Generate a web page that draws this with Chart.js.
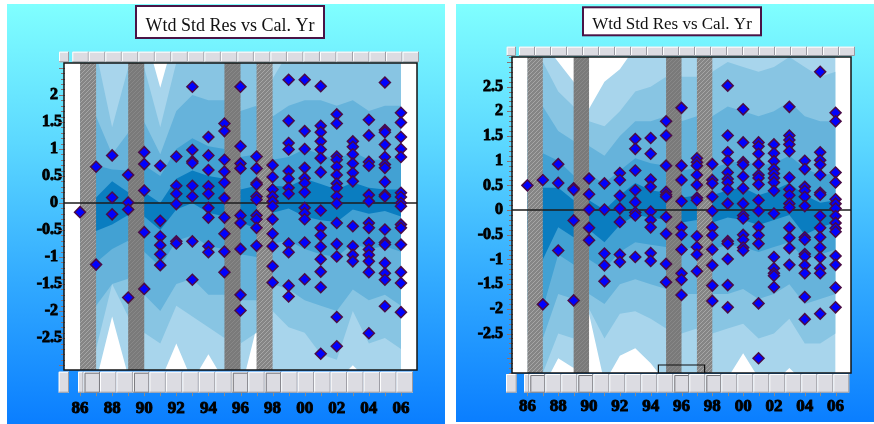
<!DOCTYPE html>
<html>
<head>
<meta charset="utf-8">
<title>Wtd Std Res vs Cal. Yr</title>
<script src="https://cdn.jsdelivr.net/npm/chart.js@4.4.1/dist/chart.umd.min.js"></script>
<style>
  html, body { margin: 0; padding: 0; background: #fff; }
  body { width: 874px; height: 424px; position: relative; overflow: hidden; }
  .panel { position: absolute; background: linear-gradient(to bottom, #80ffff 0%, #5cd8ff 33%, #32aaff 66%, #0a7eff 100%); }
  .panel canvas { display: block; }
</style>
</head>
<body>
<div class="panel" style="left:7px;top:4px;width:438px;height:420px"><canvas id="left" width="438" height="420"></canvas></div>
<div class="panel" style="left:456px;top:4px;width:418px;height:418px"><canvas id="right" width="418" height="418"></canvas></div>
<script>
const years = [1986, 1987, 1988, 1989, 1990, 1991, 1992, 1993, 1994, 1995, 1996,
  1997, 1998, 1999, 2000, 2001, 2002, 2003, 2004, 2005, 2006];
const yearLabels = ['86', '88', '90', '92', '94', '96', '98', '00', '02', '04', '06'];
const shadedYears = [1986, 1989, 1995, 1997];

// weighted standardised residuals, one list per calendar year
const leftRes = [
  [-0.17],
  [0.67, -1.14],
  [0.88, 0.10, -0.21],
  [0.52, 0.01, -0.12, -1.75],
  [0.94, 0.72, 0.23, -0.54, -1.59],
  [0.69, -0.33, -0.62, -0.78, -0.95, -1.15],
  [0.86, 0.32, 0.17, -0.02, -0.71, -0.75],
  [2.15, 0.98, 0.77, 0.74, 0.32, 0.12, -0.71, -1.42],
  [1.22, 0.88, 0.61, 0.31, 0.17, -0.09, -0.27, -0.80, -0.91],
  [1.47, 1.33, 0.80, 0.58, 0.38, 0.09, -0.27, -0.57, -0.90, -1.28],
  [2.15, 1.05, 0.73, 0.64, -0.23, -0.37, -0.85, -1.70, -1.99],
  [0.86, 0.64, 0.37, 0.34, 0.12, 0.06, -0.23, -0.30, -0.46, -0.79],
  [0.70, 0.48, 0.25, 0.12, 0.03, -0.06, -0.30, -0.57, -0.80, -1.17, -1.47],
  [2.28, 1.52, 1.11, 0.99, 0.59, 0.45, 0.28, 0.17, -0.75, -0.91, -1.53, -1.73],
  [2.28, 1.33, 1.00, 0.65, 0.46, 0.37, 0.20, -0.09, -0.19, -0.30, -0.73, -1.41],
  [2.16, 1.43, 1.31, 1.14, 0.99, 0.83, 0.57, -0.14, -0.46, -0.60, -0.81, -1.04, -1.27, -1.56, -2.79],
  [1.64, 1.47, 0.86, 0.80, 0.67, 0.52, 0.36, 0.28, 0.12, -0.01, -0.37, -0.76, -0.99, -2.11, -2.65],
  [1.14, 1.04, 0.90, 0.73, 0.56, 0.40, -0.43, -0.80, -0.96, -1.08],
  [1.54, 1.25, 0.76, 0.69, 0.15, 0.03, -0.37, -0.46, -0.74, -0.86, -0.96, -1.08, -1.28, -2.41],
  [2.23, 1.35, 1.31, 1.08, 0.85, 0.71, 0.65, 0.39, 0.15, 0.12, -0.49, -0.73, -0.77, -1.11, -1.30, -1.42, -1.91],
  [1.67, 1.49, 1.22, 1.00, 0.85, 0.19, 0.11, 0.00, -0.06, -0.40, -0.46, -0.77, -1.28, -1.48, -2.02]
];
const rightRes = [
  [0.50],
  [0.61, -1.91],
  [0.93, 0.55, -0.82],
  [0.44, 0.41, -0.21, -1.83],
  [0.64, 0.32, 0.01, -0.36, -0.61],
  [0.54, 0.01, -0.88, -1.12, -1.44],
  [0.75, 0.61, 0.29, 0.03, -0.24, -0.90, -1.05],
  [1.44, 1.24, 0.80, 0.40, 0.16, -0.05, -0.11, -0.95],
  [1.46, 1.14, 0.62, 0.47, -0.03, -0.20, -0.35, -0.87, -1.03],
  [1.80, 1.51, 0.90, 0.37, 0.31, 0.27, -0.14, -0.48, -1.09, -1.46],
  [2.07, 0.90, 0.61, 0.18, -0.35, -0.50, -0.80, -1.28, -1.41, -1.72],
  [1.05, 0.97, 0.90, 0.71, 0.51, 0.25, 0.20, -0.53, -0.75, -0.90, -1.24],
  [0.93, 0.61, 0.54, 0.27, -0.02, -0.35, -0.51, -0.80, -1.12, -1.53, -1.84],
  [2.52, 1.51, 1.17, 1.00, 0.76, 0.63, 0.56, 0.42, 0.13, -0.63, -0.68, -0.99, -1.52, -1.97],
  [2.04, 1.37, 0.97, 0.92, 0.68, 0.44, 0.13, -0.11, -0.17, -0.50, -0.60, -0.76, -0.82],
  [1.37, 1.29, 1.14, 0.93, 0.71, 0.65, 0.52, 0.20, -0.02, -0.34, -0.51, -0.68, -1.89, -3.00],
  [1.33, 1.15, 0.99, 0.83, 0.74, 0.65, 0.56, 0.39, -0.07, -0.95, -1.18, -1.28, -1.33, -1.56],
  [2.09, 1.51, 1.42, 1.33, 1.19, 0.66, 0.42, 0.30, 0.13, 0.05, -0.36, -0.56, -0.77, -1.11],
  [1.00, 0.83, 0.47, 0.39, 0.27, 0.08, -0.55, -0.60, -0.89, -0.94, -1.12, -1.28, -1.76, -2.21],
  [2.80, 1.17, 1.01, 0.92, 0.71, 0.35, 0.31, -0.12, -0.36, -0.55, -0.76, -0.96, -1.18, -1.28, -2.10],
  [1.97, 1.80, 0.76, 0.56, 0.22, 0.13, 0.03, -0.12, -0.26, -0.37, -0.44, -0.93, -1.11, -1.57, -1.97]
];

// envelope bands, innermost (1) to outermost (5)
const leftB1Hi = [0.15, 0.10, 0.40, 0.20, 0.20, 0.00, 0.45, 0.60, 0.50, 0.45, 0.25, 0.32, 0.32, 0.30, 0.45, 0.35, 0.25, 0.38, 0.28, 0.25, 0.25];
const leftB1Lo = [-0.30, -0.52, -0.40, -0.22, -0.25, -0.50, -0.12, 0.00, -0.18, -0.25, -0.35, -0.48, -0.18, -0.10, -0.25, -0.32, -0.35, -0.12, -0.20, -0.15, -0.25];
const leftB2Hi = [0.60, 0.70, 0.62, 0.60, 0.70, 0.50, 1.00, 1.20, 1.05, 1.00, 0.85, 0.90, 0.80, 0.85, 1.00, 0.90, 0.80, 0.95, 0.80, 0.80, 0.85];
const leftB2Lo = [-0.80, -1.10, -0.85, -0.70, -0.90, -1.18, -0.70, -0.60, -0.80, -0.85, -0.95, -1.00, -0.75, -0.70, -0.85, -0.95, -1.00, -0.75, -0.85, -0.80, -0.90];
const leftB3Hi = [1.40, 1.60, 0.90, 1.30, 1.50, 0.90, 1.70, 2.00, 1.90, 1.90, 1.70, 1.80, 1.60, 1.80, 1.90, 1.90, 1.80, 1.90, 1.70, 1.80, 1.80];
const leftB3Lo = [-1.50, -1.90, -1.50, -1.40, -1.70, -2.00, -1.50, -1.40, -1.70, -1.70, -1.80, -1.80, -1.50, -1.60, -1.80, -1.90, -2.00, -1.60, -1.80, -1.70, -1.90];
const leftB4Hi = [2.30, 2.80, 1.40, 2.50, 2.50, 1.40, 2.60, 3.00, 2.80, 2.90, 2.70, 2.60, 2.30, 2.80, 3.00, 2.90, 2.60, 2.90, 2.60, 2.80, 2.90];
const leftB4Lo = [-2.20, -2.70, -1.50, -2.10, -2.40, -2.60, -1.90, -2.10, -2.30, -2.50, -2.60, -2.40, -2.00, -2.30, -2.40, -2.80, -2.90, -2.00, -2.60, -2.50, -2.70];
const leftB5Hi = [3.00, 3.20, 3.00, 3.00, 3.20, 2.13, 3.20, 3.40, 3.20, 3.30, 3.50, 2.10, 3.00, 3.20, 3.40, 3.20, 3.00, 3.30, 3.00, 3.20, 3.20];
const leftB5Lo = [-3.40, -3.30, -2.10, -3.20, -3.30, -3.30, -2.60, -3.30, -2.80, -3.30, -3.50, -2.30, -3.30, -3.30, -3.30, -3.30, -3.30, -3.00, -3.30, -3.30, -3.30];

const rightB1Hi = [0.35, 0.45, 0.45, 0.20, 0.20, 0.00, 0.30, 0.55, 0.40, 0.35, 0.25, 0.30, 0.30, 0.40, 0.45, 0.30, 0.40, 0.55, 0.30, 0.15, 0.20];
const rightB1Lo = [-0.40, -1.00, -0.35, -0.55, -0.40, -0.65, -0.30, -0.10, -0.15, -0.20, -0.25, -0.20, -0.25, -0.15, -0.20, -0.30, -0.20, -0.10, -0.50, -0.35, -0.25];
const rightB2Hi = [0.90, 1.15, 1.00, 0.70, 0.70, 0.55, 0.80, 1.05, 0.95, 0.90, 0.80, 0.85, 0.85, 0.95, 1.00, 0.90, 0.95, 1.10, 0.85, 0.70, 0.75];
const rightB2Lo = [-1.00, -2.00, -0.90, -1.10, -1.00, -1.20, -0.85, -0.65, -0.70, -0.75, -0.80, -0.75, -0.80, -0.70, -0.75, -0.85, -0.75, -0.65, -1.00, -0.90, -0.80];
const rightB3Hi = [1.80, 2.10, 1.60, 1.40, 1.30, 1.10, 1.50, 1.80, 1.80, 1.90, 1.80, 1.90, 1.90, 2.10, 2.00, 1.90, 2.00, 2.20, 1.90, 1.80, 1.80];
const rightB3Lo = [-1.80, -2.60, -1.70, -1.80, -1.70, -1.90, -1.50, -1.40, -1.50, -1.60, -1.70, -1.70, -1.70, -1.70, -1.60, -1.80, -1.70, -1.50, -1.90, -1.80, -1.70];
const rightB4Hi = [2.70, 3.00, 2.40, 2.10, 1.80, 1.70, 2.00, 2.40, 2.50, 2.70, 2.70, 2.70, 2.80, 3.00, 2.90, 2.80, 2.90, 3.10, 2.90, 2.70, 2.80];
const rightB4Lo = [-2.50, -3.30, -2.50, -2.60, -2.00, -2.60, -2.10, -2.05, -2.20, -2.40, -2.50, -2.40, -2.50, -2.40, -2.30, -2.60, -2.50, -2.20, -2.70, -2.70, -2.50];
const rightB5Hi = [3.30, 3.40, 3.00, 2.60, 2.05, 2.60, 2.85, 3.30, 3.50, 3.50, 3.50, 3.40, 3.50, 3.50, 3.50, 3.40, 3.50, 3.50, 3.50, 3.40, 3.40];
const rightB5Lo = [-3.50, -3.60, -3.00, -3.20, -2.10, -3.50, -2.95, -2.80, -3.10, -3.50, -3.50, -3.50, -3.50, -3.40, -2.90, -3.40, -3.50, -3.20, -3.50, -3.50, -3.40];

const bandColors = ['#0a7dc0', '#42a1d3', '#66b3db', '#88c5e3', '#a8d5ec'];
const serif = '"Liberation Serif", "Times New Roman", serif';

function makeHatch(ctx, base, line) {
  const c = document.createElement('canvas');
  c.width = 4; c.height = 4;
  const g = c.getContext('2d');
  g.fillStyle = base;
  g.fillRect(0, 0, 4, 4);
  g.strokeStyle = line;
  g.lineWidth = 1;
  g.beginPath();
  g.moveTo(0, 4); g.lineTo(4, 0);
  g.moveTo(-1, 1); g.lineTo(1, -1);
  g.moveTo(3, 5); g.lineTo(5, 3);
  g.stroke();
  return ctx.createPattern(c, 'repeat');
}

function drawCell(ctx, x, y, w, h, marked) {
  ctx.fillStyle = '#dcdce2';
  ctx.fillRect(x, y, w, h);
  ctx.lineWidth = 1;
  ctx.strokeStyle = '#ffffff';
  ctx.beginPath();
  ctx.moveTo(x + 0.5, y + h); ctx.lineTo(x + 0.5, y + 0.5); ctx.lineTo(x + w, y + 0.5);
  ctx.stroke();
  ctx.strokeStyle = marked ? '#74747a' : '#9a9aa2';
  ctx.beginPath();
  ctx.moveTo(x + w - 0.5, y); ctx.lineTo(x + w - 0.5, y + h - 0.5); ctx.lineTo(x, y + h - 0.5);
  if (marked) { ctx.moveTo(x + 1.5, y + h - 1); ctx.lineTo(x + 1.5, y + 1.5); ctx.lineTo(x + w - 1, y + 1.5); }
  ctx.stroke();
}

const panelDeco = {
  id: 'panelDeco',
  beforeDraw(chart) {
    const { ctx, chartArea: a } = chart;
    ctx.save();
    ctx.fillStyle = '#ffffff';
    ctx.fillRect(a.left, a.top, a.right - a.left, a.bottom - a.top);
    ctx.restore();
  },
  beforeDatasetDraw(chart, args) {
    if (args.index !== 0) return;
    const { ctx, chartArea: a, scales: { x, y } } = chart;
    const light = makeHatch(ctx, '#858585', '#a6a6a6');
    const dark = makeHatch(ctx, '#7a7a7a', '#888888');
    ctx.save();
    ctx.beginPath();
    ctx.rect(a.left, a.top, a.right - a.left, a.bottom - a.top);
    ctx.clip();
    shadedYears.forEach((yr, i) => {
      const x0 = x.getPixelForValue(yr);
      const x1 = x.getPixelForValue(yr + 1);
      ctx.fillStyle = i % 3 === 0 ? light : dark;
      ctx.fillRect(x0, a.top, x1 - x0, a.bottom - a.top);
    });
    const y0 = y.getPixelForValue(0);
    ctx.strokeStyle = '#1c1c1c';
    ctx.lineWidth = 1.5;
    ctx.beginPath();
    ctx.moveTo(a.left, y0);
    ctx.lineTo(a.right, y0);
    ctx.stroke();
    ctx.restore();
  },
  afterDraw(chart, args, o) {
    const { ctx, chartArea: a, scales: { x, y } } = chart;
    ctx.save();

    // strip of cells above the plot
    const t = o.topRow;
    drawCell(ctx, t.lone[0], t.y, t.lone[1], t.h, false);
    const tw = (t.end - t.start) / t.count;
    for (let i = 0; i < t.count; i++) drawCell(ctx, t.start + i * tw, t.y, tw, t.h, false);

    // strip of cells below the plot
    const b = o.bottomRow;
    drawCell(ctx, b.lone[0], b.y, b.lone[1], b.h, false);
    drawCell(ctx, b.narrow[0], b.y, b.narrow[1] - b.narrow[0], b.h, false);
    const bw = (b.end - b.narrow[1]) / b.count;
    for (let i = 0; i < b.count; i++) {
      const yr = years[0] + i;
      drawCell(ctx, b.narrow[1] + i * bw, b.y, bw, b.h, shadedYears.includes(yr));
    }

    // year tick marks under the strip
    ctx.strokeStyle = '#8a8a8a';
    ctx.lineWidth = 1;
    years.forEach(yr => {
      const px = Math.round(x.getPixelForValue(yr)) + 0.5;
      ctx.beginPath();
      ctx.moveTo(px, b.y + b.h);
      ctx.lineTo(px, b.y + b.h + 3.5);
      ctx.stroke();
    });

    // minor ticks on the residual axis
    ctx.strokeStyle = '#8e6f6f';
    for (let k = Math.ceil(y.min * 10); k <= Math.floor(y.max * 10); k++) {
      const py = Math.round(y.getPixelForValue(k / 10)) + 0.5;
      const len = k % 5 === 0 ? 5 : 3;
      ctx.beginPath();
      ctx.moveTo(a.left - len, py);
      ctx.lineTo(a.left + 1, py);
      ctx.stroke();
    }

    // bracket marker on the lower edge
    if (o.bracket) {
      const x0 = x.getPixelForValue(o.bracket[0]);
      const x1 = x.getPixelForValue(o.bracket[1]);
      ctx.strokeStyle = '#111';
      ctx.lineWidth = 1.2;
      ctx.beginPath();
      ctx.moveTo(x0, a.bottom);
      ctx.lineTo(x0, a.bottom - 8);
      ctx.lineTo(x1, a.bottom - 8);
      ctx.lineTo(x1, a.bottom);
      ctx.stroke();
    }

    // plot frame
    ctx.strokeStyle = '#151515';
    ctx.lineWidth = 1.5;
    ctx.strokeRect(a.left, a.top, a.right - a.left, a.bottom - a.top);

    // title box
    const tb = o.titleBox;
    ctx.fillStyle = '#ffffff';
    ctx.fillRect(tb.x, tb.y, tb.w, tb.h);
    ctx.strokeStyle = '#4a1446';
    ctx.lineWidth = 2;
    ctx.strokeRect(tb.x, tb.y, tb.w, tb.h);
    ctx.fillStyle = '#111';
    ctx.font = tb.size + 'px ' + serif;
    ctx.textAlign = 'center';
    ctx.textBaseline = 'alphabetic';
    ctx.fillText(o.title, tb.x + tb.w / 2, tb.baseline);
    ctx.restore();
  }
};

function bandSets(his, los) {
  const sets = [];
  for (let i = 0; i < his.length; i++) {
    const line = {
      type: 'line', showLine: true, pointRadius: 0, borderWidth: 0,
      borderColor: 'rgba(0,0,0,0)', tension: 0
    };
    sets.push(Object.assign({}, line, {
      data: years.map((yr, j) => ({ x: yr, y: his[i][j] })),
      fill: '+1', backgroundColor: bandColors[i]
    }));
    sets.push(Object.assign({}, line, {
      data: years.map((yr, j) => ({ x: yr, y: los[i][j] })),
      fill: false
    }));
  }
  return sets;
}

function makeChart(id, res, his, los, cfg) {
  const points = res.flatMap((vals, i) => vals.map(v => ({ x: years[i], y: v })));
  return new Chart(document.getElementById(id), {
    type: 'scatter',
    data: {
      datasets: [{
        data: points,
        pointStyle: 'rectRot',
        pointRadius: 5.5,
        backgroundColor: '#0000ff',
        borderColor: '#4a0c46',
        borderWidth: 1.5
      }].concat(bandSets(his, los))
    },
    options: {
      responsive: false,
      animation: false,
      devicePixelRatio: 1,
      layout: { padding: { top: cfg.padTop, right: cfg.padRight, left: 0, bottom: 0 } },
      plugins: {
        legend: { display: false },
        tooltip: { enabled: false },
        panelDeco: cfg
      },
      scales: {
        x: {
          type: 'linear', min: 1985, max: 2007,
          afterFit: s => { s.height = cfg.xAxisH; },
          grid: { display: false, drawTicks: false },
          border: { display: false },
          ticks: {
            stepSize: 1, autoSkip: false, maxRotation: 0, padding: cfg.xPad,
            color: '#000', font: { family: serif, size: 17, weight: 700 },
            textStrokeColor: '#000', textStrokeWidth: 0.9,
            callback: v => (Number.isInteger(v) && v % 2 === 0 && v >= 1986 && v <= 2006)
              ? yearLabels[(v - 1986) / 2] : ''
          }
        },
        y: {
          min: cfg.yMin, max: cfg.yMax,
          afterFit: s => { s.width = cfg.yAxisW; },
          grid: { display: false, drawTicks: false },
          border: { display: false },
          ticks: {
            stepSize: 0.5, autoSkip: false, padding: cfg.yPad,
            color: '#000', font: { family: serif, size: 16, weight: 700 },
            textStrokeColor: '#000', textStrokeWidth: 0.9,
            callback: v => {
              if (Math.abs(v * 2 - Math.round(v * 2)) > 1e-6) return '';
              if (v < cfg.labelMin - 1e-6 || v > cfg.labelMax + 1e-6) return '';
              const r = Math.round(v * 10) / 10;
              return Number.isInteger(r) ? String(r) + cfg.intPad : String(r);
            }
          }
        }
      }
    },
    plugins: [panelDeco]
  });
}

makeChart('left', leftRes,
  [leftB1Hi, leftB2Hi, leftB3Hi, leftB4Hi, leftB5Hi],
  [leftB1Lo, leftB2Lo, leftB3Lo, leftB4Lo, leftB5Lo],
  {
    title: 'Wtd Std Res vs Cal. Yr',
    titleBox: { x: 129, y: 2, w: 188, h: 32, size: 18, baseline: 26.5 },
    padTop: 59, padRight: 17, xAxisH: 54, yAxisW: 57, xPad: 28, yPad: 2,
    yMin: -3.09, yMax: 2.59, labelMin: -2.5, labelMax: 2, intPad: ' ',
    topRow: { y: 47.7, h: 10.6, lone: [52, 10], start: 65.3, end: 412, count: 21 },
    bottomRow: { y: 367.7, h: 21, lone: [51.7, 10.3], narrow: [71, 76.5], end: 406, count: 20 },
    bracket: null
  });

makeChart('right', rightRes,
  [rightB1Hi, rightB2Hi, rightB3Hi, rightB4Hi, rightB5Hi],
  [rightB1Lo, rightB2Lo, rightB3Lo, rightB4Lo, rightB5Lo],
  {
    title: 'Wtd Std Res vs Cal. Yr',
    titleBox: { x: 127, y: 3.3, w: 178, h: 28, size: 17, baseline: 25.3 },
    padTop: 53, padRight: 11, xAxisH: 49, yAxisW: 56, xPad: 23, yPad: 9,
    yMin: -3.3, yMax: 3.1, labelMin: -2.5, labelMax: 2.5, intPad: '',
    topRow: { y: 42.7, h: 9.3, lone: [50.7, 9.3], start: 63, end: 399, count: 21 },
    bottomRow: { y: 370, h: 18.7, lone: [50, 10.7], narrow: [68, 73.3], end: 393.3, count: 20 },
    bracket: [1994.5, 1997.5]
  });
</script>
</body>
</html>
